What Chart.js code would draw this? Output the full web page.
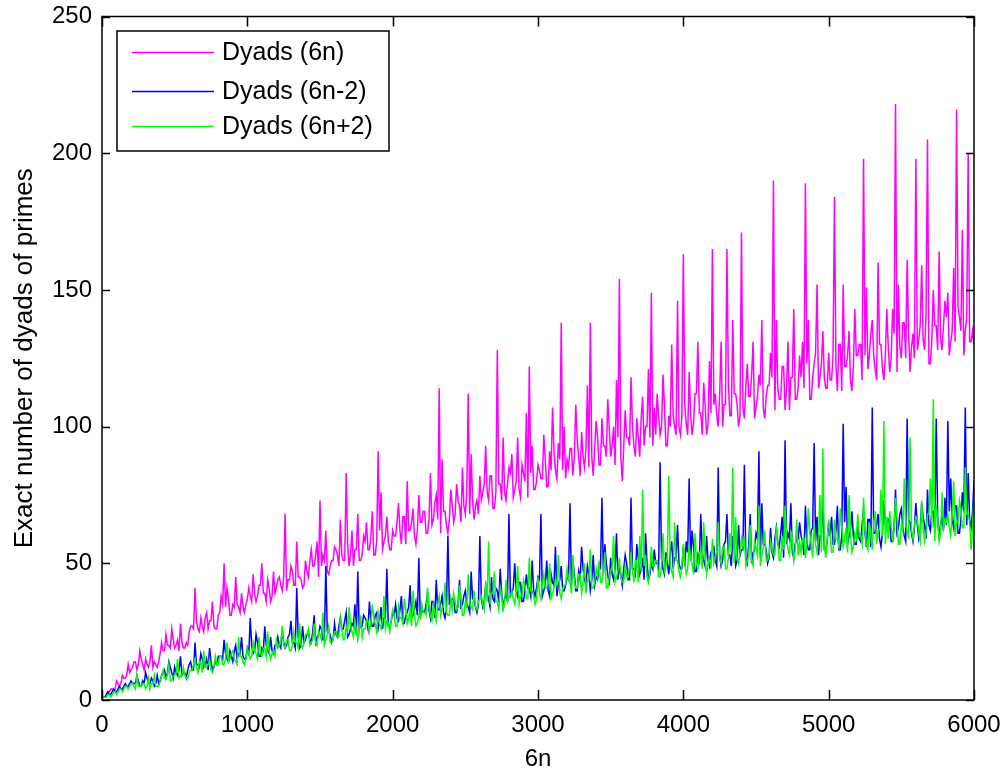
<!DOCTYPE html>
<html><head><meta charset="utf-8">
<script src="https://cdn.jsdelivr.net/npm/chart.js@4.4.0/dist/chart.umd.min.js"></script>
<style>html,body{margin:0;padding:0;background:#fff}#wrap{width:1003px;height:774px;position:relative}</style>
</head><body><div id="wrap"><canvas id="c"></canvas></div>
<script>
'use strict';
// values, two sample rows per series:
// *_odd at 6n = 10, 30, 50 ... 5990 and *_even at 6n = 20, 40, 60 ... 6000
const X_STEP=20;
const dyads6n_odd=[
 1,2,3,4,4,6,6,8,9,10, 12,14,13,15,11,13,14,12,13,14, 21,18,20,19,22,20,18,21,19,20,
 27,26,29,25,27,30,26,29,27,26, 32,35,34,37,31,34,35,32,34,35, 41,36,39,38,42,39,36,41,38,39,
 44,42,45,40,44,47,42,45,44,42, 47,51,49,53,45,49,51,47,49,51, 55,49,53,51,57,53,49,55,51,53,
 58,55,60,53,58,62,55,60,58,55, 60,65,62,67,57,62,65,60,62,65, 69,61,66,64,72,66,61,69,64,66,
 71,68,73,65,71,76,68,73,71,68, 73,79,76,82,70,76,79,73,76,79, 83,74,80,77,86,80,74,83,77,80,
 84,81,88,78,84,91,81,88,84,81, 85,92,89,95,82,89,92,85,89,92, 96,86,93,89,100,93,86,96,89,93,
 96,93,100,89,96,103,93,100,96,93, 97,104,100,108,93,100,104,97,100,104, 108,97,105,101,112,105,97,108,101,105,
 108,104,112,100,108,116,104,112,108,104, 107,115,111,119,103,111,115,107,111,115, 118,106,114,110,122,114,106,118,110,114,
 118,114,123,110,118,127,114,123,118,114, 117,126,122,130,113,122,126,117,122,126, 130,117,126,121,134,126,117,130,121,126,
 129,125,134,120,129,138,125,134,129,125, 128,137,132,141,123,132,137,128,132,137, 140,126,135,131,144,135,126,140,131,135
];
const dyads6n_even=[
 1,3,4,3,7,5,9,8,13,11, 14,11,18,13,15,12,20,14,12,17, 18,24,20,26,19,22,28,19,21,25,
 27,41,26,30,25,32,29,36,26,31, 38,50,41,31,35,45,34,39,32,37, 38,46,36,42,50,39,44,36,47,41,
 45,40,68,44,49,42,58,45,41,51, 45,55,49,58,73,53,62,46,51,56, 53,66,51,83,49,62,55,68,51,60,
 65,55,69,53,91,76,58,67,55,62, 60,72,57,67,80,62,70,57,75,65, 69,61,83,66,75,114,88,69,61,77,
 65,79,71,85,68,112,90,66,73,82, 76,93,73,82,70,128,79,96,73,85, 90,77,96,74,83,105,122,93,77,86,
 81,97,78,91,107,84,94,138,100,88, 92,82,108,89,98,85,115,138,82,102, 86,103,93,110,89,100,117,154,80,106,
 96,118,93,103,89,111,100,121,149,107, 112,97,119,93,104,130,100,146,97,163, 101,120,97,112,131,105,116,97,124,165,
 112,100,131,108,165,104,139,112,100,171, 103,123,111,131,107,119,139,103,115,127, 190,139,110,122,106,131,118,143,110,126,
 131,189,139,110,123,152,118,135,114,127, 117,184,113,130,152,122,135,113,143,126, 130,198,151,126,139,121,160,130,117,143,
 120,143,218,152,125,138,161,120,134,198, 132,159,128,205,123,150,137,164,128,146, 149,131,158,216,140,172,135,200,131,130
];
const dyads6nMinus2_odd=[
 1,2,2,3,3,4,4,5,5,6, 6,6,7,5,6,8,6,7,6,6, 9,11,10,12,8,10,11,9,10,11,
 14,11,13,12,15,13,11,14,12,13, 16,15,17,14,16,18,15,17,16,15, 17,20,18,21,16,18,20,17,18,20,
 23,19,21,20,24,21,19,23,20,21, 24,22,25,21,24,26,22,25,24,22, 24,27,26,29,23,26,27,24,26,27,
 30,26,29,27,32,29,26,30,27,29, 31,30,33,28,31,34,30,33,31,30, 32,35,33,36,30,33,35,32,33,35,
 37,32,35,34,38,35,32,37,34,35, 37,36,39,34,37,41,36,39,37,36, 38,41,40,43,36,40,41,38,40,41,
 44,38,42,40,46,42,38,44,40,42, 44,42,46,40,44,48,42,46,44,42, 44,48,46,50,42,46,48,44,46,48,
 50,44,48,46,52,48,44,50,46,48, 50,48,52,46,50,54,48,52,50,48, 49,54,51,56,47,51,54,49,51,54,
 56,49,53,51,58,53,49,56,51,53, 55,52,57,50,55,59,52,57,55,52, 54,59,57,61,52,57,59,54,57,59,
 60,53,58,55,63,58,53,60,55,58, 60,57,62,55,60,65,57,62,60,57, 59,64,61,66,56,61,64,59,61,64,
 66,58,63,61,68,63,58,66,61,63, 64,62,67,59,64,69,62,67,64,62, 64,69,66,71,61,66,69,64,66,69
];
const dyads6nMinus2_even=[
 1,3,2,4,3,5,4,6,5,7, 6,9,5,7,10,6,8,5,9,7, 10,8,14,10,12,9,16,10,8,13,
 11,21,13,17,12,15,19,11,14,16, 16,22,15,18,14,20,17,23,15,19, 30,17,24,16,19,27,18,23,17,20,
 20,26,19,23,29,21,41,19,27,22, 25,21,31,23,27,22,49,25,21,28, 23,30,26,32,24,28,35,47,27,31,
 29,36,27,31,26,34,30,48,27,32, 35,29,38,28,32,42,31,36,52,34, 32,39,30,36,44,33,38,30,60,35,
 37,32,44,35,40,34,47,37,32,60, 34,42,37,45,36,40,48,34,39,68, 39,50,38,43,36,46,41,51,38,45,
 68,40,51,38,43,56,42,49,40,45, 72,51,40,47,56,44,49,40,53,45, 48,74,57,46,52,44,61,48,42,53,
 44,74,48,57,46,52,61,44,50,55, 50,87,48,54,46,58,52,64,48,56, 58,81,62,47,53,68,51,60,49,55,
 51,85,49,57,68,53,60,49,64,55, 86,50,68,54,61,91,72,57,50,63, 52,63,56,67,95,61,72,52,59,65,
 58,71,55,62,94,67,60,74,55,65, 67,57,71,55,101,78,60,69,57,64, 58,70,56,66,107,61,68,56,73,63,
 65,58,77,63,70,60,103,65,58,72, 59,72,64,77,62,69,103,59,67,74, 102,81,63,71,61,76,107,83,63,80
];
const dyads6nPlus2_odd=[
 1,1,2,2,3,3,4,4,5,5, 6,4,5,5,6,5,4,6,5,5, 9,8,9,7,9,10,8,9,9,8,
 11,13,12,14,10,12,13,11,12,13, 16,13,15,14,17,15,13,16,14,15, 17,16,18,15,17,19,16,18,17,16,
 19,21,20,22,18,20,21,19,20,21, 24,20,22,21,25,22,20,24,21,22, 25,23,26,22,25,27,23,26,25,23,
 26,29,28,30,25,28,29,26,28,29, 31,27,30,28,33,30,27,31,28,30, 32,31,34,29,32,35,31,34,32,31,
 33,36,34,37,31,34,36,33,34,36, 38,33,36,35,39,36,33,38,35,36, 38,37,40,35,38,42,37,40,38,37,
 39,42,41,44,37,41,42,39,41,42, 44,39,43,41,46,43,39,44,41,43, 45,43,47,41,45,49,43,47,45,43,
 45,49,47,51,43,47,49,45,47,49, 51,45,49,47,53,49,45,51,47,49, 50,48,52,46,50,54,48,52,50,48,
 50,54,52,56,48,52,54,50,52,54, 56,49,53,51,58,53,49,56,51,53, 55,53,58,51,55,60,53,58,55,53,
 54,59,57,61,52,57,59,54,57,59, 61,54,59,56,63,59,54,61,56,59, 60,57,62,55,60,65,57,62,60,57,
 59,64,62,67,57,62,64,59,62,64, 66,58,63,61,68,63,58,66,61,63, 65,63,68,60,65,70,63,68,65,63
];
const dyads6nPlus2_even=[
 1,2,1,3,2,4,3,5,4,6, 5,9,5,6,4,8,6,9,5,7, 11,8,13,7,9,15,9,12,8,10,
 11,15,10,14,18,12,15,10,16,13, 16,13,21,15,18,14,23,16,13,19, 15,21,17,23,16,19,25,15,18,22,
 20,27,19,22,18,25,21,28,19,24, 26,21,28,20,24,32,22,27,21,25, 23,30,22,27,34,25,29,22,31,26,
 29,25,35,28,32,26,38,29,25,33, 27,34,30,37,28,33,40,27,31,35, 32,41,31,35,29,38,34,43,31,37,
 39,33,42,31,36,46,34,40,33,37, 35,43,58,39,47,36,41,33,44,38, 40,35,49,38,44,37,52,40,35,45,
 37,46,41,50,39,44,53,37,42,48, 43,53,41,46,39,50,44,55,41,48, 51,43,54,41,47,60,45,52,43,49,
 45,54,43,51,60,77,53,43,56,49, 51,45,61,49,82,47,65,51,45,57, 46,57,50,61,48,54,65,46,52,59,
 52,65,50,56,48,61,85,67,50,59, 60,51,64,49,56,71,53,62,51,58, 53,64,51,60,71,55,62,51,66,58,
 59,52,70,57,64,54,75,92,52,66, 54,66,59,70,56,63,75,54,61,68, 60,74,57,65,55,69,62,77,102,67,
 69,59,74,57,64,81,62,96,59,67, 61,73,58,68,81,110,71,58,76,66, 68,60,80,65,73,63,85,68,55,75
];
const xTicks=[0,1000,2000,3000,4000,5000,6000];
const yTicks=[0,50,100,150,200,250];
const seriesNames=['Dyads (6n)','Dyads (6n-2)','Dyads (6n+2)'];
const seriesColors=['#ff00ff','#0000ff','#00ff00'];

const FONT='"Liberation Sans", Arial, sans-serif';

// put the two sample rows back in 6n order
function merge(odd,even){
  const pts=[];
  odd.forEach((v,i)=>{ pts.push({x:i*X_STEP+X_STEP/2,y:v}); pts.push({x:(i+1)*X_STEP,y:even[i]}); });
  return pts;
}

// matlab-ish box: full frame, ticks pointing in, legend box top-left
const frame={id:'frame',afterDraw(ch){
  const {ctx,chartArea:a,scales:{x,y}}=ch;
  ctx.save();
  ctx.strokeStyle='#000'; ctx.lineWidth=1.5;
  ctx.strokeRect(a.left,a.top,a.right-a.left,a.bottom-a.top);
  ctx.beginPath();
  yTicks.forEach(v=>{ const p=Math.round(y.getPixelForValue(v))+.5;
    ctx.moveTo(a.left,p); ctx.lineTo(a.left+8,p); ctx.moveTo(a.right,p); ctx.lineTo(a.right-8,p); });
  xTicks.forEach(v=>{ const p=Math.round(x.getPixelForValue(v))+.5;
    ctx.moveTo(p,a.bottom); ctx.lineTo(p,a.bottom-10); ctx.moveTo(p,a.top); ctx.lineTo(p,a.top+10); });
  ctx.stroke();
  // legend
  const bx=117,by=31,bw=272,bh=120;
  ctx.fillStyle='#fff'; ctx.fillRect(bx,by,bw,bh);
  ctx.lineWidth=1.5; ctx.strokeStyle='#000'; ctx.strokeRect(bx,by,bw,bh);
  ctx.font='25px '+FONT; ctx.textBaseline='middle'; ctx.textAlign='left';
  const rows=[52,91,126];
  ch.data.datasets.forEach((d,i)=>{
    ctx.strokeStyle=d.borderColor; ctx.lineWidth=1.5;
    ctx.beginPath(); ctx.moveTo(132,rows[i]+.5); ctx.lineTo(214,rows[i]+.5); ctx.stroke();
    ctx.fillStyle='#000'; ctx.fillText(d.label,222,rows[i]+1);
  });
  ctx.restore();
}};

const ds=[merge(dyads6n_odd,dyads6n_even),merge(dyads6nMinus2_odd,dyads6nMinus2_even),merge(dyads6nPlus2_odd,dyads6nPlus2_even)]
  .map((data,i)=>({
    label:seriesNames[i],data,borderColor:seriesColors[i],backgroundColor:seriesColors[i],
    borderWidth:1.5,pointRadius:0,tension:0,order:3-i
  }));

new Chart(document.getElementById('c'),{type:'line',data:{datasets:ds},plugins:[frame],
  options:{responsive:true,maintainAspectRatio:false,animation:false,
    layout:{padding:{top:16.5,right:29,bottom:0,left:0}},
    plugins:{legend:{display:false},tooltip:{enabled:false}},
    scales:{
      x:{type:'linear',min:0,max:6000,afterFit(s){s.height=74;s.paddingLeft=0;s.paddingRight=0;},
        grid:{display:false,tickLength:0},border:{display:false},
        ticks:{stepSize:1000,autoSkip:false,maxRotation:0,padding:11,color:'#000',font:{family:FONT,size:24},
          callback:v=>String(v)},
        title:{display:true,text:'6n',color:'#000',font:{family:FONT,size:24},padding:{top:0,bottom:0}}},
      y:{min:0,max:250,afterFit(s){s.width=102;s.paddingTop=0;s.paddingBottom=0;},
        grid:{display:false,tickLength:0},border:{display:false},
        ticks:{stepSize:50,padding:10,color:'#000',font:{family:FONT,size:24},callback:v=>String(v)},
        title:{display:true,text:'Exact number of dyads of primes',color:'#000',font:{family:FONT,size:26},padding:{top:9,bottom:0}}}
    }}});
</script></body></html>
